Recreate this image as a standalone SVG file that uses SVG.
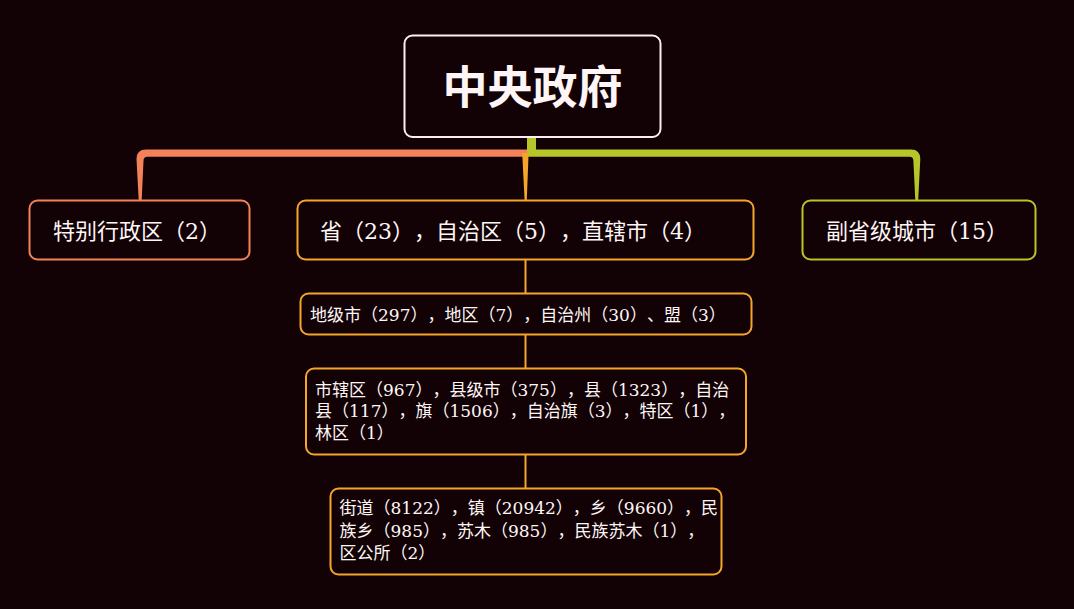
<svg xmlns="http://www.w3.org/2000/svg" width="1074" height="609" viewBox="0 0 1074 609">
<style>
text{text-spacing-trim:space-all;font-kerning:none}
.t{font-family:"DejaVu Serif","Noto Sans CJK SC",serif;fill:#fff6f6}
.l1{font-size:22px}
.l2{font-size:17px}
.root{font-family:"Noto Sans CJK SC","Noto Sans CJK JP",sans-serif;font-weight:bold;font-size:45px;fill:#fff4f6}
.box{fill:#120205;stroke-width:2}
.w{stroke:#fbeef0}
.c{stroke:#f3825b}
.o{stroke:#f6a52b}
.g{stroke:#b6c62a}
.ln{stroke:#f6a52b;stroke-width:2;fill:none}
</style>
<rect width="1074" height="609" fill="#120205"/>
<g id="connectors">
<path d="M527 149.5 L146 149.5 Q136.5 149.5 136.5 159 L138.7 200 L141.7 200 L143.5 161 Q143.5 156.8 147.5 156.8 L527 156.8 Z" fill="#f3825b"/>
<path d="M527 137 L536 137 L536 149.5 L911 149.5 Q920.3 149.5 920.3 159 L918.2 200 L915.3 200 L913.4 161 Q913.4 156.8 909.5 156.8 L527 156.8 Z" fill="#b6c62a"/>
<path d="M522.2 153 L528.6 153 L526.8 200 L524.6 200 Z" fill="#f6a52b"/>
<line class="ln" x1="525.5" y1="260" x2="525.5" y2="293"/>
<line class="ln" x1="525.5" y1="334" x2="525.5" y2="368"/>
<line class="ln" x1="525.5" y1="455" x2="525.5" y2="488"/>
</g>
<g id="root">
<rect class="box w" x="404.5" y="35.5" width="256" height="101.5" rx="8"/>
<text class="root" x="532.5" y="104" text-anchor="middle">中央政府</text>
</g>
<g id="sar">
<rect class="box c" x="29.5" y="200.5" width="220" height="59" rx="8"/>
<text class="t l1" x="53" y="238.5">特别行政区（2）</text>
</g>
<g id="province">
<rect class="box o" x="297.5" y="200.5" width="456" height="59" rx="8"/>
<text class="t l1" x="320" y="238.5">省（23），自治区（5），直辖市（4）</text>
</g>
<g id="subprov">
<rect class="box g" x="802.5" y="200.5" width="233" height="59" rx="8"/>
<text class="t l1" x="826" y="238.5">副省级城市（15）</text>
</g>
<g id="prefecture">
<rect class="box o" x="300.5" y="293.5" width="451" height="41" rx="8"/>
<text class="t l2" x="310" y="321">地级市（297），地区（7），自治州（30）、盟（3）</text>
</g>
<g id="county">
<rect class="box o" x="306" y="368.5" width="440" height="86" rx="8"/>
<text class="t l2" x="315" y="395.5">市辖区（967），县级市（375），县（1323），自治</text>
<text class="t l2" x="315" y="417">县（117），旗（1506），自治旗（3），特区（1），</text>
<text class="t l2" x="315" y="439">林区（1）</text>
</g>
<g id="township">
<rect class="box o" x="330.5" y="488.5" width="391" height="86" rx="8"/>
<text class="t l2" x="339.5" y="514">街道（8122），镇（20942），乡（9660），民</text>
<text class="t l2" x="339.5" y="536.5">族乡（985），苏木（985），民族苏木（1），</text>
<text class="t l2" x="339.5" y="559">区公所（2）</text>
</g>
</svg>
